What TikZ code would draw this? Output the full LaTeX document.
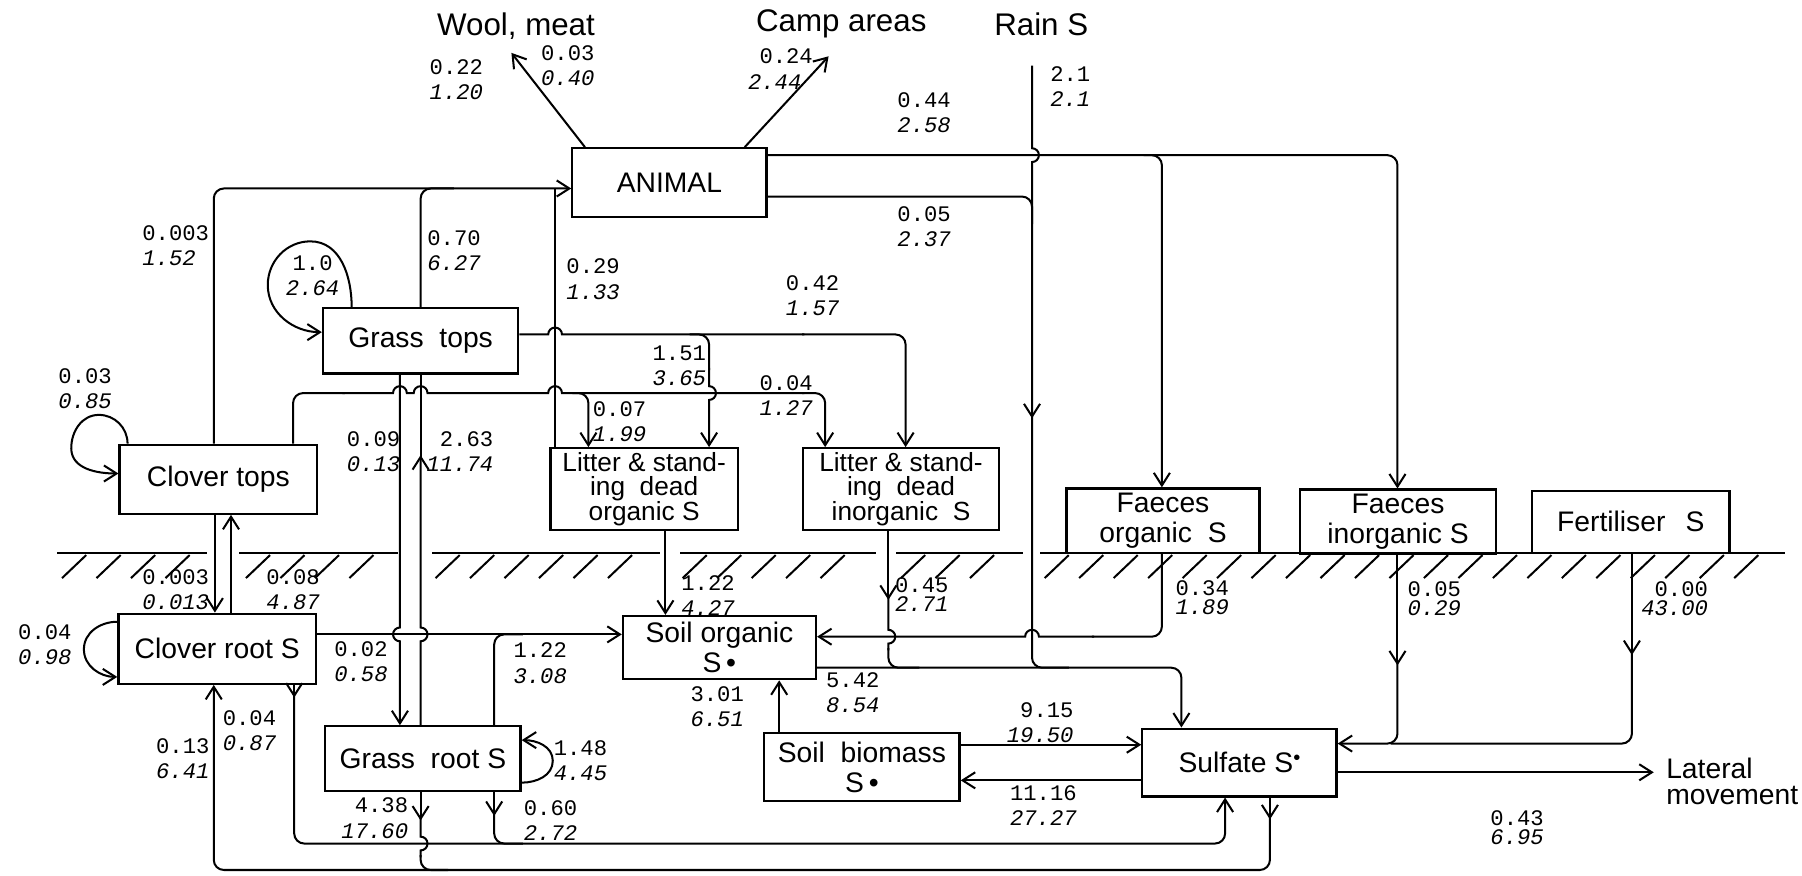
\documentclass[tikz,border=0pt]{standalone}
\usepackage{fontspec}
\setmainfont{Liberation Sans}
\newfontfamily\numfont{Liberation Mono}
\usetikzlibrary{arrows.meta}
\lineskiplimit=-\maxdimen

\begin{document}
\begin{tikzpicture}[x=0.02cm, y=-0.02cm, line width=1pt,
    box/.style={draw, line width=1.1pt, inner sep=0pt, align=center, font=\fontsize{14}{15}\selectfont},
    litbox/.style={box, font=\fontsize{13}{12.2}\selectfont},
    outlbl/.style={inner sep=0pt, align=left, font=\fontsize{15.5}{12}\selectfont},
    num/.style={inner sep=0pt, anchor=west, align=left, font=\numfont\fontsize{11}{12.5}\selectfont},
    tnum/.style={num, font=\numfont\fontsize{11}{9.5}\selectfont},
    arr/.style={-{Straight Barb[length=2.2mm,width=2.8mm]}}
  ]
    \useasboundingbox (0,0) rectangle (1568,762);

    % compartments
    \node[box, minimum width=3.38cm, minimum height=1.2cm] (animal) at (582.5,159) {ANIMAL};
    \node[box, minimum width=3.4cm, minimum height=1.14cm] (grasstops) at (366,296.5) {Grass~~tops};
    \node[box, minimum width=3.44cm, minimum height=1.2cm] (clovertops) at (190,417) {Clover tops};
    \node[litbox, minimum width=3.26cm, minimum height=1.42cm] (litorg) at (560.5,425.5) {Litter \& stand-\\ing~~dead\\organic S};
    \node[litbox, minimum width=3.4cm, minimum height=1.42cm] (litinorg) at (784,425.5) {Litter \& stand-\\ing~~dead\\inorganic~~S};
    \node[box, minimum width=3.36cm, minimum height=1.12cm] (faeorg) at (1012,453) {Faeces\\organic~~S};
    \node[box, minimum width=3.42cm, minimum height=1.12cm] (faeinorg) at (1216.5,454) {Faeces\\inorganic S};
    \node[box, minimum width=3.44cm, minimum height=1.08cm] (fert) at (1419,454) {Fertiliser\hspace{0.35cm}S};
    \node[box, minimum width=3.44cm, minimum height=1.22cm] (cloverroot) at (189,564.5) {Clover root S};
    \node[box, minimum width=3.4cm, minimum height=1.12cm] (grassroot) at (368,660) {Grass~~root S};
    \node[box, minimum width=3.36cm, minimum height=1.1cm] (soilorg) at (626,563.5) {Soil organic\\S\,\textbullet};
    \node[box, minimum width=3.4cm, minimum height=1.18cm] (biomass) at (750,667.5) {Soil~~biomass\\S\,\textbullet};
    \node[box, minimum width=3.38cm, minimum height=1.18cm] (sulfate) at (1078.5,663.5) {Sulfate S\raisebox{0.55ex}{\fontsize{10}{10}\selectfont\textbullet}};

    % outside pools
    \node[outlbl] (wool) at (449,23) {Wool, meat};
    \node[outlbl] (camp) at (732,21) {Camp areas};
    \node[outlbl] (rain) at (906,21) {Rain S};
    \node[outlbl, anchor=west, font=\fontsize{14}{13}\selectfont] (lateral) at (1449,680) {Lateral\\movement};
    \coordinate (woolend) at (445,46);
    \coordinate (campend) at (721,49);
    \coordinate (rainin) at (898,57);

    % ground surface
    \draw (50,481) -- (180,481) (208,481) -- (346,481) (376,481) -- (574,481)
          (592,481) -- (762,481) (780,481) -- (890,481) (905,481) -- (1553,481);
    \foreach \a/\n in {75/3, 235/3, 400/5, 615/4, 805/2, 930/20}
      \foreach \k in {0,...,\n}
        \draw ({\a+30*\k},483) -- ({\a+30*\k-21},503);

    % animal
    \draw[arr] (animal.north -| 509,0) -- (woolend);
    \draw[arr] (animal.north -| 648,0) -- (campend);
    \draw[arr, rounded corners=5pt] (animal.east |- 0,135) -- (1216,135) -- (faeinorg.north -| 1216,0);
    \draw[arr, rounded corners=5pt] (995,135) -- (1011,135) -- (faeorg.north -| 1011,0);
    \draw[rounded corners=5pt] (animal.east |- 0,171) -- (898,171) -- (898,195);
    \draw[arr, rounded corners=5pt] (clovertops.north -| 186,0) -- (186,164) -- (animal.west |- 0,164);
    \draw[rounded corners=5pt] (grasstops.north -| 366,0) -- (366,164) -- (395,164);
    \draw (litorg.north -| 483,0) -- (483,164);

    % rain
    \draw[arr] (rainin) -- (898,129) arc[start angle=90,end angle=-90,radius=0.12cm] -- (898,364);
    \draw[rounded corners=5pt] (898,360) -- (898,581) -- (930,581);

    % tops
    \draw (grasstops.east |- 0,291) -- (477,291) arc[start angle=180,end angle=0,radius=0.12cm] -- (700,291);
    \draw[arr, rounded corners=5pt] (698,291) -- (788,291) -- (litinorg.north -| 788,0);
    \draw[rounded corners=5pt] (600,291) -- (617,291) -- (617,322);
    \draw[arr] (617,320) -- (617,336) arc[start angle=90,end angle=-90,radius=0.12cm] -- (litorg.north -| 617,0);
    \draw[rounded corners=5pt] (clovertops.north -| 255,0) -- (255,342) -- (300,342);
    \draw (298,342) -- (342,342) arc[start angle=180,end angle=0,radius=0.12cm] -- (360,342)
      arc[start angle=180,end angle=0,radius=0.12cm] -- (477,342)
      arc[start angle=180,end angle=0,radius=0.12cm] -- (700,342);
    \draw[arr, rounded corners=5pt] (698,342) -- (718,342) -- (litinorg.north -| 718,0);
    \draw[arr, rounded corners=5pt] (498,342) -- (512,342) -- (litorg.north -| 512,0);
    \draw[arr] (clovertops.north -| 111,0) to[out=90,in=0] (86,361) to[out=180,in=90] (62,390)
      to[out=-90,in=180] (clovertops.west |- 0,412);
    \draw[arr] (grasstops.north -| 306,0) to[out=90,in=0] (270,210) to[out=180,in=90] (233,248)
      to[out=-90,in=180] (grasstops.west |- 0,289);

    % tops and roots
    \draw[arr] (clovertops.south -| 187,0) -- (cloverroot.north -| 187,0);
    \draw[arr] (cloverroot.north -| 201,0) -- (clovertops.south -| 201,0);
    \draw[arr] (grasstops.south -| 348,0) -- (348,546) arc[start angle=90,end angle=270,radius=0.12cm]
      -- (grassroot.north -| 348,0);
    \draw[arr] (grassroot.north -| 366,0) -- (366,558) arc[start angle=-90,end angle=90,radius=0.12cm] -- (366,396);
    \draw (366,400) -- (grasstops.south -| 366,0);
    \draw[arr] (cloverroot.west |- 0,541) to[out=180,in=90] (73,565) to[out=-90,in=180] (cloverroot.west |- 0,589);
    \draw[arr] (grassroot.east |- 0,681) to[out=0,in=-90] (481,662) to[out=90,in=0] (grassroot.east |- 0,644);

    % soil
    \draw[arr] (cloverroot.east |- 0,552) -- (soilorg.west |- 0,552);
    \draw[rounded corners=5pt] (grassroot.north -| 430,0) -- (430,552) -- (455,552);
    \draw[arr] (litorg.south -| 579,0) -- (soilorg.north -| 579,0);
    \draw[arr] (litinorg.south -| 773,0) -- (773,522);
    \draw (773,518) -- (773,548) arc[start angle=90,end angle=-90,radius=0.12cm] -- (773,566);
    \draw[rounded corners=5pt] (773,564) -- (773,581) -- (800,581);
    \draw[arr, rounded corners=5pt] (soilorg.east |- 0,581) -- (1028,581) -- (sulfate.north -| 1028,0);
    \draw[rounded corners=5pt] (faeorg.south -| 1011,0) -- (1011,554) -- (950,554);
    \draw[arr] (952,554) -- (904,554) arc[start angle=0,end angle=180,radius=0.12cm] -- (soilorg.east |- 0,554);
    \draw[arr] (faeinorg.south -| 1216,0) -- (1216,579);
    \draw[arr, rounded corners=5pt] (1216,575) -- (1216,647) -- (sulfate.east |- 0,647);
    \draw[arr] (fert.south -| 1420,0) -- (1420,570);
    \draw[rounded corners=5pt] (1420,566) -- (1420,647) -- (1210,647);
    \draw[arr] (biomass.north -| 678,0) -- (soilorg.south -| 678,0);
    \draw[arr] (biomass.east |- 0,648) -- (sulfate.west |- 0,648);
    \draw[arr] (sulfate.west |- 0,679) -- (biomass.east |- 0,679);
    \draw[arr, shorten >=0.2cm] (sulfate.east |- 0,672) -- (lateral.west |- 0,672);

    % uptake and return
    \draw[arr] (cloverroot.south -| 256,0) -- (256,607);
    \draw[arr, rounded corners=5pt] (256,603) -- (256,734) -- (1066,734) -- (sulfate.south -| 1066,0);
    \draw[arr] (grassroot.south -| 430,0) -- (430,710);
    \draw[rounded corners=5pt] (430,706) -- (430,734) -- (455,734);
    \draw[arr] (grassroot.south -| 366,0) -- (366,714);
    \draw (366,710) -- (366,728) arc[start angle=90,end angle=-90,radius=0.12cm] -- (366,746);
    \draw[rounded corners=5pt] (366,744) -- (366,757) -- (390,757);
    \draw[arr] (sulfate.south -| 1105,0) -- (1105,713);
    \draw[arr, rounded corners=5pt] (1105,709) -- (1105,757) -- (186,757) -- (cloverroot.south -| 186,0);

    % flux values
    \node[num] (fwool) at (373,69) {0.22\\\textit{1.20}};
    \node[num] (fwoolb) at (470,57) {0.03\\\textit{0.40}};
    \node[num] (fcamp) at (650,60) {\hspace*{0.2cm}0.24\\\textit{2.44}};
    \node[num] (frain) at (913,75) {2.1\\\textit{2.1}};
    \node[num] (fanfae) at (780,98) {0.44\\\textit{2.58}};
    \node[num] (fanrain) at (780,197) {0.05\\\textit{2.37}};
    \node[num] (fctan) at (123,214) {0.003\\\textit{1.52}};
    \node[num] (fgtan) at (371,218) {0.70\\\textit{6.27}};
    \node[num] (floan) at (492,243) {0.29\\\textit{1.33}};
    \node[num, anchor=center, align=center] (fgtgt) at (272,240) {1.0\\\textit{2.64}};
    \node[num] (fgtli) at (683,257) {0.42\\\textit{1.57}};
    \node[num] (fgtlo) at (567,318) {1.51\\\textit{3.65}};
    \node[num] (fctlo) at (515,367) {0.07\\\textit{1.99}};
    \node[num] (fctli) at (660,344) {0.04\\\textit{1.27}};
    \node[num] (fctct) at (50,338) {0.03\\\textit{0.85}};
    \node[num] (fgtgr) at (301,393) {0.09\\\textit{0.13}};
    \node[num, anchor=east, align=right] (fgrgt) at (430,393) {2.63\\\textit{11.74}};
    \node[num] (fctcr) at (123,513) {0.003\\\textit{0.013}};
    \node[num] (fcrct) at (231,513) {0.08\\\textit{4.87}};
    \node[num] (fcrcr) at (15,561) {0.04\\\textit{0.98}};
    \node[num] (fcrso) at (290,576) {0.02\\\textit{0.58}};
    \node[num] (fgrso) at (446,577) {1.22\\\textit{3.08}};
    \node[num] (floso) at (592,518) {1.22\\\textit{4.27}};
    \node[tnum] (flisu) at (778,517) {0.45\\\textit{2.71}};
    \node[tnum] (ffoso) at (1022,520) {0.34\\\textit{1.89}};
    \node[tnum] (ffisu) at (1224,521) {0.05\\\textit{0.29}};
    \node[tnum, anchor=east, align=right] (ffesu) at (1487,521) {0.00\\\textit{43.00}};
    \node[num] (fsosu) at (718,603) {5.42\\\textit{8.54}};
    \node[num] (fbiso) at (600,615) {3.01\\\textit{6.51}};
    \node[num, anchor=east, align=right] (fbisu) at (935,629) {9.15\\\textit{19.50}};
    \node[num] (fsubi) at (878,701) {11.16\\\textit{27.27}};
    \node[num] (fgrgr) at (481,662) {1.48\\\textit{4.45}};
    \node[num] (fsucr) at (135,660) {0.13\\\textit{6.41}};
    \node[num] (fcrsu) at (193,636) {0.04\\\textit{0.87}};
    \node[num, anchor=east, align=right] (fsugr) at (356,712) {4.38\\\textit{17.60}};
    \node[num] (fgrsu) at (455,714) {0.60\\\textit{2.72}};
    \node[tnum] (flat) at (1296,720) {0.43\\\textit{6.95}};
  \end{tikzpicture}
\end{document}
